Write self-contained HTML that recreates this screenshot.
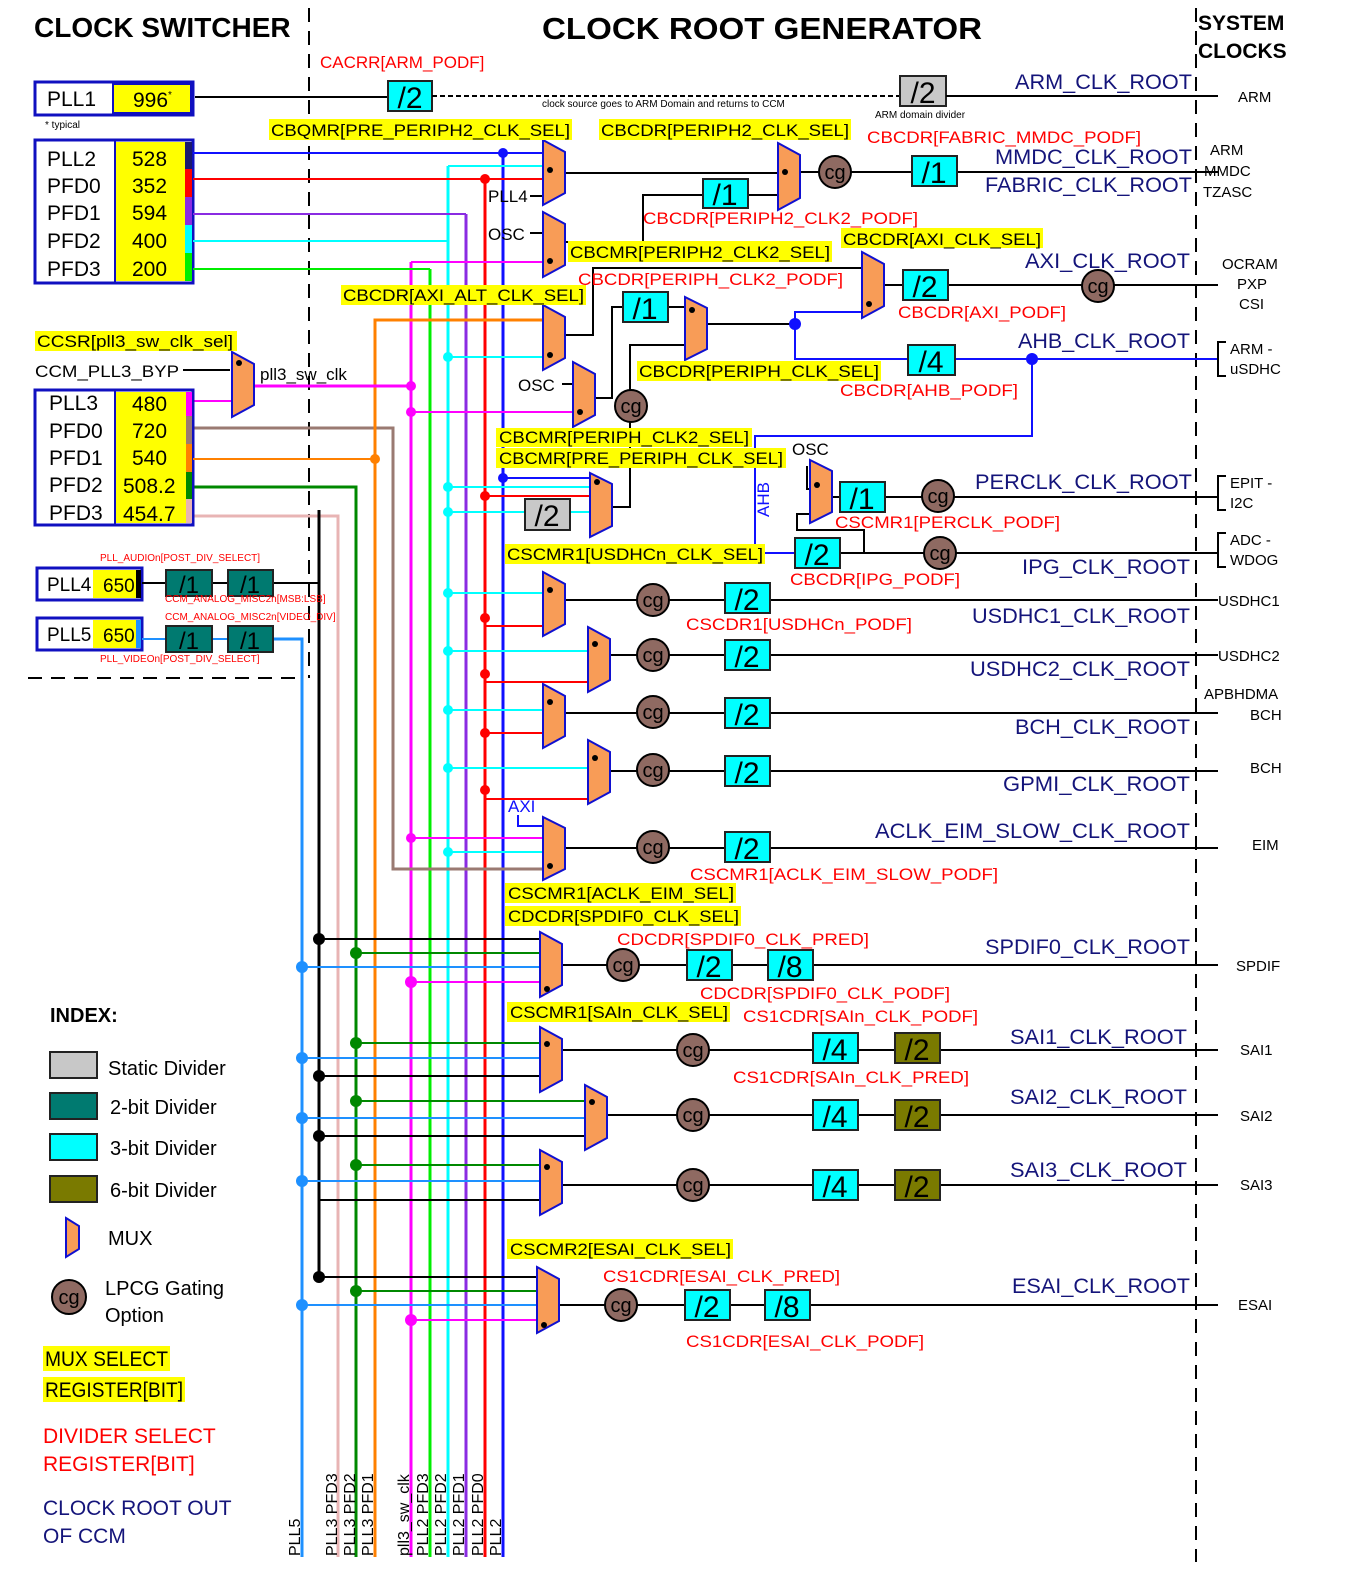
<!DOCTYPE html>
<html><head><meta charset="utf-8"><style>
html,body{margin:0;padding:0;background:#fff}
svg{display:block}
text{font-family:"Liberation Sans",Arial,sans-serif}
.t{font-size:17px;fill:#000}
.r{font-size:17px;fill:#ff0000}
.n{font-size:21px;fill:#14147a}
.s{font-size:15px;fill:#000}
.d{font-size:30px;fill:#000;text-anchor:middle}
.cg{font-size:20px;fill:#000;text-anchor:middle}
.sm{font-size:10px;fill:#ff0000}
.mux{fill:#f89c57;stroke:#1010d0;stroke-width:2}
.cgc{fill:#8f6a62;stroke:#000;stroke-width:2}
.cy{fill:#00ffff;stroke:#222;stroke-width:2}
.gr{fill:#c8c8c8;stroke:#222;stroke-width:2}
.tl{fill:#007a70;stroke:#222;stroke-width:2}
.ol{fill:#7a7a00;stroke:#222;stroke-width:2}
.yl{fill:#ffff00}
</style></head><body>
<svg width="1346" height="1589" viewBox="0 0 1346 1589" xmlns="http://www.w3.org/2000/svg">
<!-- titles -->
<text x="34" y="37" style="font-size:28px;font-weight:bold">CLOCK SWITCHER</text>
<text x="542" y="39" style="font-size:31px;font-weight:bold" textLength="440" lengthAdjust="spacingAndGlyphs">CLOCK ROOT GENERATOR</text>
<text x="1198" y="30" style="font-size:21px;font-weight:bold">SYSTEM</text>
<text x="1198" y="58" style="font-size:21px;font-weight:bold">CLOCKS</text>

<!-- dashed separators -->
<line x1="309" y1="8" x2="309" y2="678" stroke="#000" stroke-width="2" stroke-dasharray="14,9"/>
<line x1="1196" y1="8" x2="1196" y2="1562" stroke="#000" stroke-width="2" stroke-dasharray="14,9"/>
<line x1="28" y1="678" x2="302" y2="678" stroke="#000" stroke-width="2" stroke-dasharray="14,9"/>

<!-- ===== Buses ===== -->
<g fill="none" stroke-width="3">
<line x1="503" y1="153" x2="503" y2="1557" stroke="#1010ff"/>
<line x1="485" y1="179" x2="485" y2="1557" stroke="#ff0000"/>
<line x1="466" y1="214" x2="466" y2="1557" stroke="#8a2be2"/>
<line x1="448" y1="166" x2="448" y2="1557" stroke="#00ffff"/>
<line x1="430" y1="269" x2="430" y2="1557" stroke="#00ee00"/>
<line x1="411" y1="262" x2="411" y2="1557" stroke="#ff00ff"/>
<polyline points="193,428 393,428 393,869 543,869" stroke="#9a7a72"/>
<polyline points="543,320 375,320 375,1557" stroke="#ff8000"/>
<polyline points="193,487 356,487 356,1557" stroke="#008800"/>
<polyline points="193,516 338,516 338,1557" stroke="#e8b4b4"/>
<line x1="319" y1="510" x2="319" y2="1277" stroke="#000"/>
<polyline points="273,639 302,639 302,1557" stroke="#1e90ff"/>
</g>

<!-- PLL1 -->
<rect x="35" y="82" width="158" height="33" fill="#fff" stroke="#1010c0" stroke-width="3"/>
<rect x="113" y="84" width="78" height="29" fill="#ffff00" stroke="#1010c0" stroke-width="2"/>
<text x="47" y="106" style="font-size:21px">PLL1</text>
<text x="133" y="107" style="font-size:21px">996<tspan style="font-size:10px" dy="-9">*</tspan></text>
<text x="45" y="128" style="font-size:10px">* typical</text>
<line x1="195" y1="97" x2="388" y2="97" stroke="#000" stroke-width="2"/>
<rect x="388" y="81" width="44" height="30" class="cy"/><text x="410" y="108" class="d">/2</text>
<line x1="432" y1="96" x2="900" y2="96" stroke="#000" stroke-width="2" stroke-dasharray="5,3"/>
<rect x="900" y="76" width="46" height="30" class="gr"/><text x="923" y="103" class="d">/2</text>
<line x1="946" y1="96" x2="1218" y2="96" stroke="#000" stroke-width="2"/>
<text x="320" y="68" class="r">CACRR[ARM_PODF]</text>
<text x="542" y="107" style="font-size:10px">clock source goes to ARM Domain and returns to CCM</text>
<text x="875" y="118" style="font-size:10px">ARM domain divider</text>
<text x="1015" y="89" class="n" textLength="177" lengthAdjust="spacingAndGlyphs">ARM_CLK_ROOT</text>
<text x="1238" y="102" class="s">ARM</text>

<!-- PLL2 box -->
<rect x="35" y="140" width="158" height="143" fill="#fff" stroke="#1010c0" stroke-width="3"/>
<rect x="115" y="142" width="70" height="139" fill="#ffff00"/>
<line x1="115" y1="140" x2="115" y2="283" stroke="#1010c0" stroke-width="2"/>
<rect x="185" y="142" width="7" height="27" fill="#1a1a6e"/>
<rect x="185" y="169" width="7" height="28" fill="#ff0000"/>
<rect x="185" y="197" width="7" height="28" fill="#8a2be2"/>
<rect x="185" y="225" width="7" height="28" fill="#00ffff"/>
<rect x="185" y="253" width="7" height="28" fill="#00ee00"/>
<g style="font-size:21px">
<text x="47" y="166">PLL2</text><text x="132" y="166">528</text>
<text x="47" y="193">PFD0</text><text x="132" y="193">352</text>
<text x="47" y="220">PFD1</text><text x="132" y="220">594</text>
<text x="47" y="248">PFD2</text><text x="132" y="248">400</text>
<text x="47" y="276">PFD3</text><text x="132" y="276">200</text>
</g>
<g stroke-width="2" fill="none">
<line x1="193" y1="153" x2="543" y2="153" stroke="#1010ff"/>
<line x1="448" y1="166" x2="543" y2="166" stroke="#00ffff"/>
<line x1="193" y1="179" x2="543" y2="179" stroke="#ff0000"/>
<polyline points="193,214 466,214" stroke="#8a2be2"/>
<polyline points="193,241 448,241" stroke="#00ffff"/>
<polyline points="193,269 430,269" stroke="#00ee00"/>
<line x1="411" y1="262" x2="543" y2="262" stroke="#ff00ff"/>
<line x1="448" y1="357" x2="543" y2="357" stroke="#00ffff"/>
<line x1="411" y1="412" x2="573" y2="412" stroke="#ff00ff"/>
<line x1="503" y1="478" x2="590" y2="478" stroke="#1010ff"/>
<line x1="448" y1="487" x2="590" y2="487" stroke="#00ffff"/>
<line x1="485" y1="496" x2="590" y2="496" stroke="#ff0000"/>
<line x1="448" y1="512" x2="590" y2="512" stroke="#00ffff"/>
</g>
<g fill="#1010ff"><circle cx="503" cy="153" r="5"/><circle cx="503" cy="478" r="5"/></g>
<g fill="#ff0000"><circle cx="485" cy="179" r="5"/><circle cx="485" cy="496" r="5"/></g>
<g fill="#00ffff"><circle cx="448" cy="357" r="5"/><circle cx="448" cy="487" r="5"/><circle cx="448" cy="512" r="5"/></g>
<g fill="#ff00ff"><circle cx="411" cy="386" r="5"/><circle cx="411" cy="412" r="5"/></g>
<circle cx="375" cy="459" r="5" fill="#ff8000"/>
<rect x="525" y="499" width="45" height="31" class="gr"/><text x="547" y="526" class="d">/2</text>

<!-- top muxes -->
<text x="488" y="202" class="t">PLL4</text><line x1="530" y1="196" x2="543" y2="196" stroke="#000" stroke-width="2"/>
<text x="488" y="240" class="t">OSC</text><line x1="530" y1="233" x2="543" y2="233" stroke="#000" stroke-width="2"/>
<text x="518" y="391" class="t">OSC</text><line x1="562" y1="384" x2="573" y2="384" stroke="#000" stroke-width="2"/>
<g fill="none" stroke="#000" stroke-width="2">
<line x1="565" y1="173" x2="778" y2="173"/>
<polyline points="565,242 643,242 643,195 703,195"/>
<line x1="748" y1="195" x2="778" y2="195"/>
<line x1="800" y1="172" x2="912" y2="172"/>
<line x1="957" y1="172" x2="1218" y2="172"/>
<polyline points="565,335 593,335 593,268 862,268"/>
<polyline points="595,398 612,398 612,307 623,307"/>
<line x1="668" y1="307" x2="685" y2="307"/>
<line x1="707" y1="324" x2="795" y2="324"/>
<polyline points="612,507 630,507 630,345 685,345"/>
<line x1="884" y1="285" x2="903" y2="285"/>
<line x1="948" y1="285" x2="1218" y2="285"/>
<line x1="230" y1="370" x2="183" y2="370"/>
</g>
<polyline points="193,401 232,401" fill="none" stroke="#ff00ff" stroke-width="2"/>
<line x1="254" y1="386" x2="411" y2="386" stroke="#ff00ff" stroke-width="3"/>
<g fill="none" stroke="#1010ff" stroke-width="2">
<polyline points="795,324 795,312 862,312"/>
<polyline points="795,324 795,359 908,359"/>
<line x1="955" y1="359" x2="1218" y2="359"/>
<polyline points="1032,359 1032,436 755,436 755,553 795,553"/>
</g>
<circle cx="795" cy="324" r="6" fill="#1010ff"/>
<circle cx="1032" cy="359" r="6" fill="#1010ff"/>

<polygon class="mux" points="543,140 565,152 565,193 543,205"/><circle cx="550" cy="170" r="3"/>
<polygon class="mux" points="543,212 565,224 565,265 543,277"/><circle cx="550" cy="261" r="3"/>
<polygon class="mux" points="778,143 800,155 800,198 778,210"/><circle cx="785" cy="172" r="3"/>
<polygon class="mux" points="543,305 565,317 565,358 543,370"/><circle cx="550" cy="355" r="3"/>
<polygon class="mux" points="573,362 595,374 595,415 573,427"/><circle cx="580" cy="412" r="3"/>
<polygon class="mux" points="685,297 707,308 707,349 685,360"/><circle cx="692" cy="310" r="3"/>
<polygon class="mux" points="862,252 884,264 884,306 862,318"/><circle cx="869" cy="304" r="3"/>
<polygon class="mux" points="590,473 612,484 612,526 590,537"/><circle cx="597" cy="482" r="3"/>
<polygon class="mux" points="232,352 254,364 254,405 232,417"/><circle cx="239" cy="363" r="3"/>

<rect x="703" y="179" width="45" height="29" class="cy"/><text x="725" y="205" class="d">/1</text>
<circle cx="835" cy="172" r="16" class="cgc"/><text x="835" y="179" class="cg">cg</text>
<rect x="912" y="156" width="45" height="30" class="cy"/><text x="934" y="183" class="d">/1</text>
<rect x="623" y="292" width="45" height="30" class="cy"/><text x="645" y="319" class="d">/1</text>
<circle cx="631" cy="406" r="16" class="cgc"/><text x="631" y="413" class="cg">cg</text>
<rect x="903" y="270" width="45" height="30" class="cy"/><text x="925" y="297" class="d">/2</text>
<circle cx="1098" cy="286" r="16" class="cgc"/><text x="1098" y="293" class="cg">cg</text>
<rect x="908" y="345" width="47" height="30" class="cy"/><text x="931" y="372" class="d">/4</text>

<!-- labels top -->
<rect x="269" y="119" width="303" height="21" class="yl"/><text x="271" y="136" class="t" textLength="299" lengthAdjust="spacingAndGlyphs">CBQMR[PRE_PERIPH2_CLK_SEL]</text>
<rect x="599" y="119" width="252" height="21" class="yl"/><text x="601" y="136" class="t" textLength="248" lengthAdjust="spacingAndGlyphs">CBCDR[PERIPH2_CLK_SEL]</text>
<text x="867" y="143" class="r" textLength="274" lengthAdjust="spacingAndGlyphs">CBCDR[FABRIC_MMDC_PODF]</text>
<text x="995" y="164" class="n" textLength="197" lengthAdjust="spacingAndGlyphs">MMDC_CLK_ROOT</text>
<text x="985" y="192" class="n" textLength="207" lengthAdjust="spacingAndGlyphs">FABRIC_CLK_ROOT</text>
<text x="1210" y="155" class="s">ARM</text><text x="1204" y="176" class="s">MMDC</text><text x="1203" y="197" class="s">TZASC</text>
<text x="643" y="224" class="r" textLength="275" lengthAdjust="spacingAndGlyphs">CBCDR[PERIPH2_CLK2_PODF]</text>
<rect x="568" y="241" width="264" height="21" class="yl"/><text x="570" y="258" class="t" textLength="260" lengthAdjust="spacingAndGlyphs">CBCMR[PERIPH2_CLK2_SEL]</text>
<rect x="841" y="228" width="202" height="20" class="yl"/><text x="843" y="245" class="t" textLength="198" lengthAdjust="spacingAndGlyphs">CBCDR[AXI_CLK_SEL]</text>
<text x="1025" y="268" class="n" textLength="165" lengthAdjust="spacingAndGlyphs">AXI_CLK_ROOT</text>
<text x="1222" y="269" class="s">OCRAM</text><text x="1237" y="289" class="s">PXP</text><text x="1239" y="309" class="s">CSI</text>
<text x="578" y="285" class="r" textLength="265" lengthAdjust="spacingAndGlyphs">CBCDR[PERIPH_CLK2_PODF]</text>
<rect x="341" y="285" width="245" height="20" class="yl"/><text x="343" y="301" class="t" textLength="241" lengthAdjust="spacingAndGlyphs">CBCDR[AXI_ALT_CLK_SEL]</text>
<text x="898" y="318" class="r" textLength="168" lengthAdjust="spacingAndGlyphs">CBCDR[AXI_PODF]</text>
<text x="1018" y="348" class="n" textLength="172" lengthAdjust="spacingAndGlyphs">AHB_CLK_ROOT</text>
<polyline points="1226,342 1218,342 1218,376 1226,376" fill="none" stroke="#000" stroke-width="2"/>
<text x="1230" y="354" class="s">ARM -</text><text x="1230" y="374" class="s">uSDHC</text>
<rect x="35" y="331" width="202" height="20" class="yl"/><text x="37" y="347" class="t" textLength="196" lengthAdjust="spacingAndGlyphs">CCSR[pll3_sw_clk_sel]</text>
<text x="35" y="377" class="t" textLength="144" lengthAdjust="spacingAndGlyphs">CCM_PLL3_BYP</text>
<text x="260" y="380" class="t">pll3_sw_clk</text>
<rect x="637" y="361" width="244" height="20" class="yl"/><text x="639" y="377" class="t" textLength="240" lengthAdjust="spacingAndGlyphs">CBCDR[PERIPH_CLK_SEL]</text>
<text x="840" y="396" class="r" textLength="178" lengthAdjust="spacingAndGlyphs">CBCDR[AHB_PODF]</text>
<rect x="496" y="428" width="256" height="19" class="yl"/><text x="499" y="443" class="t" textLength="250" lengthAdjust="spacingAndGlyphs">CBCMR[PERIPH_CLK2_SEL]</text>
<rect x="496" y="448" width="290" height="20" class="yl"/><text x="499" y="464" class="t" textLength="284" lengthAdjust="spacingAndGlyphs">CBCMR[PRE_PERIPH_CLK_SEL]</text>

<!-- PLL3 -->
<rect x="35" y="390" width="158" height="135" fill="#fff" stroke="#1010c0" stroke-width="3"/>
<rect x="115" y="392" width="71" height="131" fill="#ffff00"/>
<line x1="115" y1="390" x2="115" y2="525" stroke="#1010c0" stroke-width="2"/>
<rect x="186" y="392" width="6" height="24" fill="#ff00ff"/>
<rect x="186" y="416" width="6" height="28" fill="#9a7a72"/>
<rect x="186" y="444" width="6" height="28" fill="#ff8000"/>
<rect x="186" y="472" width="6" height="27" fill="#008800"/>
<rect x="186" y="499" width="6" height="24" fill="#e8b4b4"/>
<g style="font-size:21px">
<text x="49" y="410">PLL3</text><text x="132" y="411">480</text>
<text x="49" y="438">PFD0</text><text x="132" y="438">720</text>
<text x="49" y="465">PFD1</text><text x="132" y="465">540</text>
<text x="49" y="492">PFD2</text><text x="123" y="493">508.2</text>
<text x="49" y="520">PFD3</text><text x="123" y="521">454.7</text>
</g>
<line x1="193" y1="459" x2="375" y2="459" stroke="#ff8000" stroke-width="2"/>

<!-- PLL4/5 -->
<rect x="37" y="568" width="105" height="32" fill="#fff" stroke="#1010c0" stroke-width="3"/>
<rect x="93" y="570" width="43" height="28" fill="#ffff00"/><rect x="136" y="570" width="5" height="28" fill="#000"/>
<text x="47" y="591" style="font-size:19px">PLL4</text><text x="103" y="592" style="font-size:19px">650</text>
<rect x="37" y="618" width="105" height="32" fill="#fff" stroke="#1010c0" stroke-width="3"/>
<rect x="93" y="620" width="43" height="28" fill="#ffff00"/><rect x="136" y="620" width="5" height="28" fill="#1e90ff"/>
<text x="47" y="641" style="font-size:19px">PLL5</text><text x="103" y="642" style="font-size:19px">650</text>
<line x1="142" y1="583" x2="166" y2="583" stroke="#000" stroke-width="2"/>
<line x1="212" y1="583" x2="228" y2="583" stroke="#000" stroke-width="2"/>
<line x1="273" y1="583" x2="319" y2="583" stroke="#000" stroke-width="2"/>
<line x1="142" y1="639" x2="166" y2="639" stroke="#1e90ff" stroke-width="2"/>
<line x1="212" y1="639" x2="228" y2="639" stroke="#1e90ff" stroke-width="2"/>
<rect x="166" y="570" width="46" height="26" class="tl"/><text x="189" y="593" class="d" style="font-size:24px">/1</text>
<rect x="228" y="570" width="45" height="26" class="tl"/><text x="250" y="593" class="d" style="font-size:24px">/1</text>
<rect x="166" y="626" width="46" height="26" class="tl"/><text x="189" y="649" class="d" style="font-size:24px">/1</text>
<rect x="228" y="626" width="45" height="26" class="tl"/><text x="250" y="649" class="d" style="font-size:24px">/1</text>
<text x="100" y="561" class="sm">PLL_AUDIOn[POST_DIV_SELECT]</text>
<text x="165" y="602" class="sm">CCM_ANALOG_MISC2n[MSB:LSB]</text>
<text x="165" y="620" class="sm">CCM_ANALOG_MISC2n[VIDEO_DIV]</text>
<text x="100" y="662" class="sm">PLL_VIDEOn[POST_DIV_SELECT]</text>

<!-- PERCLK / IPG -->
<text x="792" y="455" class="t">OSC</text>
<text x="769" y="517" transform="rotate(-90 769 517)" style="font-size:17px;fill:#1010ff">AHB</text>
<g fill="none" stroke="#000" stroke-width="2">
<polyline points="807,466 807,489 810,489"/>
<polyline points="810,514 797,514 797,530 864,530 864,553"/>
<line x1="832" y1="497" x2="840" y2="497"/>
<line x1="885" y1="497" x2="1218" y2="497"/>
<line x1="840" y1="553" x2="1218" y2="553"/>
</g>
<polygon class="mux" points="810,460 832,471 832,512 810,523"/><circle cx="817" cy="485" r="3"/>
<rect x="840" y="482" width="45" height="30" class="cy"/><text x="862" y="509" class="d">/1</text>
<circle cx="938" cy="496" r="16" class="cgc"/><text x="938" y="503" class="cg">cg</text>
<rect x="795" y="538" width="45" height="30" class="cy"/><text x="817" y="565" class="d">/2</text>
<circle cx="940" cy="553" r="16" class="cgc"/><text x="940" y="560" class="cg">cg</text>
<text x="835" y="528" class="r" textLength="225" lengthAdjust="spacingAndGlyphs">CSCMR1[PERCLK_PODF]</text>
<text x="975" y="489" class="n" textLength="217" lengthAdjust="spacingAndGlyphs">PERCLK_CLK_ROOT</text>
<polyline points="1226,476 1218,476 1218,510 1226,510" fill="none" stroke="#000" stroke-width="2"/>
<text x="1230" y="488" class="s">EPIT -</text><text x="1230" y="508" class="s">I2C</text>
<text x="790" y="585" class="r" textLength="170" lengthAdjust="spacingAndGlyphs">CBCDR[IPG_PODF]</text>
<text x="1022" y="574" class="n" textLength="168" lengthAdjust="spacingAndGlyphs">IPG_CLK_ROOT</text>
<polyline points="1226,533 1218,533 1218,567 1226,567" fill="none" stroke="#000" stroke-width="2"/>
<text x="1230" y="545" class="s">ADC -</text><text x="1230" y="565" class="s">WDOG</text>

<!-- USDHC / BCH / GPMI / EIM -->
<rect x="505" y="544" width="260" height="20" class="yl"/><text x="507" y="560" class="t" textLength="256" lengthAdjust="spacingAndGlyphs">CSCMR1[USDHCn_CLK_SEL]</text>
<g stroke-width="2" fill="none">
<line x1="448" y1="593" x2="543" y2="593" stroke="#00ffff"/>
<line x1="485" y1="626" x2="543" y2="626" stroke="#ff0000"/>
<line x1="448" y1="651" x2="588" y2="651" stroke="#00ffff"/>
<line x1="485" y1="682" x2="588" y2="682" stroke="#ff0000"/>
<line x1="448" y1="710" x2="543" y2="710" stroke="#00ffff"/>
<line x1="485" y1="733" x2="543" y2="733" stroke="#ff0000"/>
<line x1="448" y1="768" x2="588" y2="768" stroke="#00ffff"/>
<line x1="485" y1="799" x2="588" y2="799" stroke="#ff0000"/>
<polyline points="518,815 518,826 543,826" stroke="#1010ff"/>
<line x1="411" y1="838" x2="543" y2="838" stroke="#ff00ff"/>
<line x1="448" y1="852" x2="543" y2="852" stroke="#00ffff"/>
</g>
<g fill="#00ffff"><circle cx="448" cy="593" r="5"/><circle cx="448" cy="651" r="5"/><circle cx="448" cy="710" r="5"/><circle cx="448" cy="768" r="5"/><circle cx="448" cy="852" r="5"/></g>
<g fill="#ff0000"><circle cx="485" cy="618" r="5"/><circle cx="485" cy="674" r="5"/><circle cx="485" cy="733" r="5"/><circle cx="485" cy="790" r="5"/></g>
<circle cx="411" cy="838" r="5" fill="#ff00ff"/>
<g fill="none" stroke="#000" stroke-width="2">
<line x1="565" y1="600" x2="1218" y2="600"/>
<line x1="610" y1="655" x2="1218" y2="655"/>
<line x1="565" y1="713" x2="1218" y2="713"/>
<line x1="610" y1="771" x2="1218" y2="771"/>
<line x1="565" y1="848" x2="1218" y2="848"/>
</g>
<polygon class="mux" points="543,572 565,584 565,624 543,636"/><circle cx="550" cy="590" r="3"/>
<polygon class="mux" points="588,627 610,639 610,680 588,692"/><circle cx="595" cy="644" r="3"/>
<polygon class="mux" points="543,684 565,696 565,736 543,748"/><circle cx="550" cy="702" r="3"/>
<polygon class="mux" points="588,740 610,752 610,792 588,804"/><circle cx="595" cy="758" r="3"/>
<polygon class="mux" points="543,817 565,828 565,869 543,880"/><circle cx="550" cy="866" r="3"/>
<g>
<circle cx="653" cy="600" r="16" class="cgc"/><text x="653" y="607" class="cg">cg</text>
<circle cx="653" cy="655" r="16" class="cgc"/><text x="653" y="662" class="cg">cg</text>
<circle cx="653" cy="712" r="16" class="cgc"/><text x="653" y="719" class="cg">cg</text>
<circle cx="653" cy="770" r="16" class="cgc"/><text x="653" y="777" class="cg">cg</text>
<circle cx="653" cy="847" r="16" class="cgc"/><text x="653" y="854" class="cg">cg</text>
</g>
<rect x="725" y="583" width="45" height="30" class="cy"/><text x="747" y="610" class="d">/2</text>
<rect x="725" y="640" width="45" height="30" class="cy"/><text x="747" y="667" class="d">/2</text>
<rect x="725" y="698" width="45" height="30" class="cy"/><text x="747" y="725" class="d">/2</text>
<rect x="725" y="756" width="45" height="30" class="cy"/><text x="747" y="783" class="d">/2</text>
<rect x="725" y="832" width="45" height="30" class="cy"/><text x="747" y="859" class="d">/2</text>
<text x="686" y="630" class="r" textLength="226" lengthAdjust="spacingAndGlyphs">CSCDR1[USDHCn_PODF]</text>
<text x="972" y="623" class="n" textLength="218" lengthAdjust="spacingAndGlyphs">USDHC1_CLK_ROOT</text>
<text x="1218" y="606" class="s">USDHC1</text>
<text x="970" y="676" class="n" textLength="220" lengthAdjust="spacingAndGlyphs">USDHC2_CLK_ROOT</text>
<text x="1218" y="661" class="s">USDHC2</text>
<text x="1015" y="734" class="n" textLength="175" lengthAdjust="spacingAndGlyphs">BCH_CLK_ROOT</text>
<text x="1204" y="699" class="s">APBHDMA</text><text x="1250" y="720" class="s">BCH</text>
<text x="1003" y="791" class="n" textLength="187" lengthAdjust="spacingAndGlyphs">GPMI_CLK_ROOT</text>
<text x="1250" y="773" class="s">BCH</text>
<text x="508" y="812" style="font-size:17px;fill:#1010ff">AXI</text>
<text x="875" y="838" class="n" textLength="315" lengthAdjust="spacingAndGlyphs">ACLK_EIM_SLOW_CLK_ROOT</text>
<text x="1252" y="850" class="s">EIM</text>
<text x="690" y="880" class="r" textLength="308" lengthAdjust="spacingAndGlyphs">CSCMR1[ACLK_EIM_SLOW_PODF]</text>
<rect x="505" y="883" width="231" height="20" class="yl"/><text x="508" y="899" class="t" textLength="226" lengthAdjust="spacingAndGlyphs">CSCMR1[ACLK_EIM_SEL]</text>
<rect x="505" y="906" width="236" height="20" class="yl"/><text x="508" y="922" class="t" textLength="231" lengthAdjust="spacingAndGlyphs">CDCDR[SPDIF0_CLK_SEL]</text>

<!-- SPDIF / SAI / ESAI feeders -->
<g stroke-width="2" fill="none">
<line x1="319" y1="939" x2="540" y2="939" stroke="#000"/>
<line x1="356" y1="953" x2="540" y2="953" stroke="#008800"/>
<line x1="302" y1="967" x2="540" y2="967" stroke="#1e90ff"/>
<line x1="411" y1="982" x2="540" y2="982" stroke="#ff00ff"/>
<line x1="356" y1="1043" x2="540" y2="1043" stroke="#008800"/>
<line x1="302" y1="1058" x2="540" y2="1058" stroke="#1e90ff"/>
<line x1="319" y1="1076" x2="540" y2="1076" stroke="#000"/>
<line x1="356" y1="1101" x2="585" y2="1101" stroke="#008800"/>
<line x1="302" y1="1118" x2="585" y2="1118" stroke="#1e90ff"/>
<line x1="319" y1="1136" x2="585" y2="1136" stroke="#000"/>
<line x1="356" y1="1165" x2="540" y2="1165" stroke="#008800"/>
<line x1="302" y1="1181" x2="540" y2="1181" stroke="#1e90ff"/>
<line x1="319" y1="1200" x2="540" y2="1200" stroke="#000"/>
<line x1="319" y1="1277" x2="537" y2="1277" stroke="#000"/>
<line x1="356" y1="1291" x2="537" y2="1291" stroke="#008800"/>
<line x1="302" y1="1305" x2="537" y2="1305" stroke="#1e90ff"/>
<line x1="411" y1="1320" x2="537" y2="1320" stroke="#ff00ff"/>
</g>
<g fill="#000"><circle cx="319" cy="939" r="6"/><circle cx="319" cy="1076" r="6"/><circle cx="319" cy="1136" r="6"/><circle cx="319" cy="1277" r="6"/></g>
<g fill="#008800"><circle cx="356" cy="953" r="6"/><circle cx="356" cy="1043" r="6"/><circle cx="356" cy="1101" r="6"/><circle cx="356" cy="1165" r="6"/><circle cx="356" cy="1291" r="6"/></g>
<g fill="#1e90ff"><circle cx="302" cy="967" r="6"/><circle cx="302" cy="1058" r="6"/><circle cx="302" cy="1118" r="6"/><circle cx="302" cy="1181" r="6"/><circle cx="302" cy="1305" r="6"/></g>
<g fill="#ff00ff"><circle cx="411" cy="982" r="6"/><circle cx="411" cy="1320" r="6"/></g>
<g fill="none" stroke="#000" stroke-width="2">
<line x1="562" y1="965" x2="1218" y2="965"/>
<line x1="562" y1="1050" x2="1218" y2="1050"/>
<line x1="607" y1="1115" x2="1218" y2="1115"/>
<line x1="562" y1="1185" x2="1218" y2="1185"/>
<line x1="559" y1="1305" x2="1218" y2="1305"/>
</g>
<polygon class="mux" points="540,932 562,944 562,985 540,997"/><circle cx="547" cy="989" r="3"/>
<polygon class="mux" points="540,1027 562,1039 562,1080 540,1092"/><circle cx="547" cy="1044" r="3"/>
<polygon class="mux" points="585,1085 607,1097 607,1138 585,1150"/><circle cx="592" cy="1102" r="3"/>
<polygon class="mux" points="540,1150 562,1162 562,1203 540,1215"/><circle cx="547" cy="1167" r="3"/>
<polygon class="mux" points="537,1267 559,1279 559,1321 537,1333"/><circle cx="544" cy="1325" r="3"/>
<circle cx="623" cy="965" r="16" class="cgc"/><text x="623" y="972" class="cg">cg</text>
<circle cx="693" cy="1050" r="16" class="cgc"/><text x="693" y="1057" class="cg">cg</text>
<circle cx="693" cy="1115" r="16" class="cgc"/><text x="693" y="1122" class="cg">cg</text>
<circle cx="693" cy="1185" r="16" class="cgc"/><text x="693" y="1192" class="cg">cg</text>
<circle cx="621" cy="1305" r="16" class="cgc"/><text x="621" y="1312" class="cg">cg</text>
<rect x="687" y="950" width="45" height="30" class="cy"/><text x="709" y="977" class="d">/2</text>
<rect x="768" y="950" width="45" height="30" class="cy"/><text x="790" y="977" class="d">/8</text>
<rect x="813" y="1033" width="45" height="30" class="cy"/><text x="835" y="1060" class="d">/4</text>
<rect x="895" y="1033" width="45" height="30" class="ol"/><text x="917" y="1060" class="d">/2</text>
<rect x="813" y="1100" width="45" height="30" class="cy"/><text x="835" y="1127" class="d">/4</text>
<rect x="895" y="1100" width="45" height="30" class="ol"/><text x="917" y="1127" class="d">/2</text>
<rect x="813" y="1170" width="45" height="30" class="cy"/><text x="835" y="1197" class="d">/4</text>
<rect x="895" y="1170" width="45" height="30" class="ol"/><text x="917" y="1197" class="d">/2</text>
<rect x="685" y="1290" width="45" height="30" class="cy"/><text x="707" y="1317" class="d">/2</text>
<rect x="765" y="1290" width="45" height="30" class="cy"/><text x="787" y="1317" class="d">/8</text>
<text x="617" y="945" class="r" textLength="252" lengthAdjust="spacingAndGlyphs">CDCDR[SPDIF0_CLK_PRED]</text>
<text x="700" y="999" class="r" textLength="250" lengthAdjust="spacingAndGlyphs">CDCDR[SPDIF0_CLK_PODF]</text>
<text x="985" y="954" class="n" textLength="205" lengthAdjust="spacingAndGlyphs">SPDIF0_CLK_ROOT</text>
<text x="1236" y="971" class="s">SPDIF</text>
<rect x="507" y="1002" width="223" height="20" class="yl"/><text x="510" y="1018" class="t" textLength="218" lengthAdjust="spacingAndGlyphs">CSCMR1[SAIn_CLK_SEL]</text>
<text x="743" y="1022" class="r" textLength="235" lengthAdjust="spacingAndGlyphs">CS1CDR[SAIn_CLK_PODF]</text>
<text x="733" y="1083" class="r" textLength="236" lengthAdjust="spacingAndGlyphs">CS1CDR[SAIn_CLK_PRED]</text>
<text x="1010" y="1044" class="n" textLength="177" lengthAdjust="spacingAndGlyphs">SAI1_CLK_ROOT</text>
<text x="1240" y="1055" class="s">SAI1</text>
<text x="1010" y="1104" class="n" textLength="177" lengthAdjust="spacingAndGlyphs">SAI2_CLK_ROOT</text>
<text x="1240" y="1121" class="s">SAI2</text>
<text x="1010" y="1177" class="n" textLength="177" lengthAdjust="spacingAndGlyphs">SAI3_CLK_ROOT</text>
<text x="1240" y="1190" class="s">SAI3</text>
<rect x="507" y="1239" width="226" height="20" class="yl"/><text x="510" y="1255" class="t" textLength="221" lengthAdjust="spacingAndGlyphs">CSCMR2[ESAI_CLK_SEL]</text>
<text x="603" y="1282" class="r" textLength="237" lengthAdjust="spacingAndGlyphs">CS1CDR[ESAI_CLK_PRED]</text>
<text x="686" y="1347" class="r" textLength="238" lengthAdjust="spacingAndGlyphs">CS1CDR[ESAI_CLK_PODF]</text>
<text x="1012" y="1293" class="n" textLength="178" lengthAdjust="spacingAndGlyphs">ESAI_CLK_ROOT</text>
<text x="1238" y="1310" class="s">ESAI</text>

<!-- INDEX -->
<text x="50" y="1022" style="font-size:20px;font-weight:bold">INDEX:</text>
<rect x="50" y="1052" width="47" height="26" class="gr"/><text x="108" y="1075" style="font-size:20px">Static Divider</text>
<rect x="50" y="1093" width="47" height="26" class="tl"/><text x="110" y="1114" style="font-size:20px">2-bit Divider</text>
<rect x="50" y="1134" width="47" height="26" class="cy"/><text x="110" y="1155" style="font-size:20px">3-bit Divider</text>
<rect x="50" y="1176" width="47" height="26" class="ol"/><text x="110" y="1197" style="font-size:20px">6-bit Divider</text>
<polygon class="mux" points="66,1218 79,1226 79,1249 66,1257"/>
<text x="108" y="1245" style="font-size:20px">MUX</text>
<circle cx="69" cy="1297" r="17" class="cgc"/><text x="69" y="1304" class="cg">cg</text>
<text x="105" y="1295" style="font-size:20px">LPCG Gating</text>
<text x="105" y="1322" style="font-size:20px">Option</text>
<rect x="43" y="1346" width="127" height="25" class="yl"/><text x="45" y="1366" style="font-size:21px" textLength="123" lengthAdjust="spacingAndGlyphs">MUX SELECT</text>
<rect x="43" y="1377" width="142" height="25" class="yl"/><text x="45" y="1397" style="font-size:21px" textLength="138" lengthAdjust="spacingAndGlyphs">REGISTER[BIT]</text>
<text x="43" y="1443" style="font-size:21px;fill:#ff0000">DIVIDER SELECT</text>
<text x="43" y="1471" style="font-size:21px;fill:#ff0000">REGISTER[BIT]</text>
<text x="43" y="1515" style="font-size:21px;fill:#14147a">CLOCK ROOT OUT</text>
<text x="43" y="1543" style="font-size:21px;fill:#14147a">OF CCM</text>

<!-- bottom bus labels -->
<g style="font-size:16px">
<text transform="translate(300,1556) rotate(-90)">PLL5</text>
<text transform="translate(337,1556) rotate(-90)">PLL3 PFD3</text>
<text transform="translate(355,1556) rotate(-90)">PLL3 PFD2</text>
<text transform="translate(373,1556) rotate(-90)">PLL3 PFD1</text>
<text transform="translate(409,1556) rotate(-90)">pll3_sw_clk</text>
<text transform="translate(428,1556) rotate(-90)">PLL2 PFD3</text>
<text transform="translate(446,1556) rotate(-90)">PLL2 PFD2</text>
<text transform="translate(464,1556) rotate(-90)">PLL2 PFD1</text>
<text transform="translate(483,1556) rotate(-90)">PLL2 PFD0</text>
<text transform="translate(501,1556) rotate(-90)">PLL2</text>
</g>
</svg>
</body></html>
